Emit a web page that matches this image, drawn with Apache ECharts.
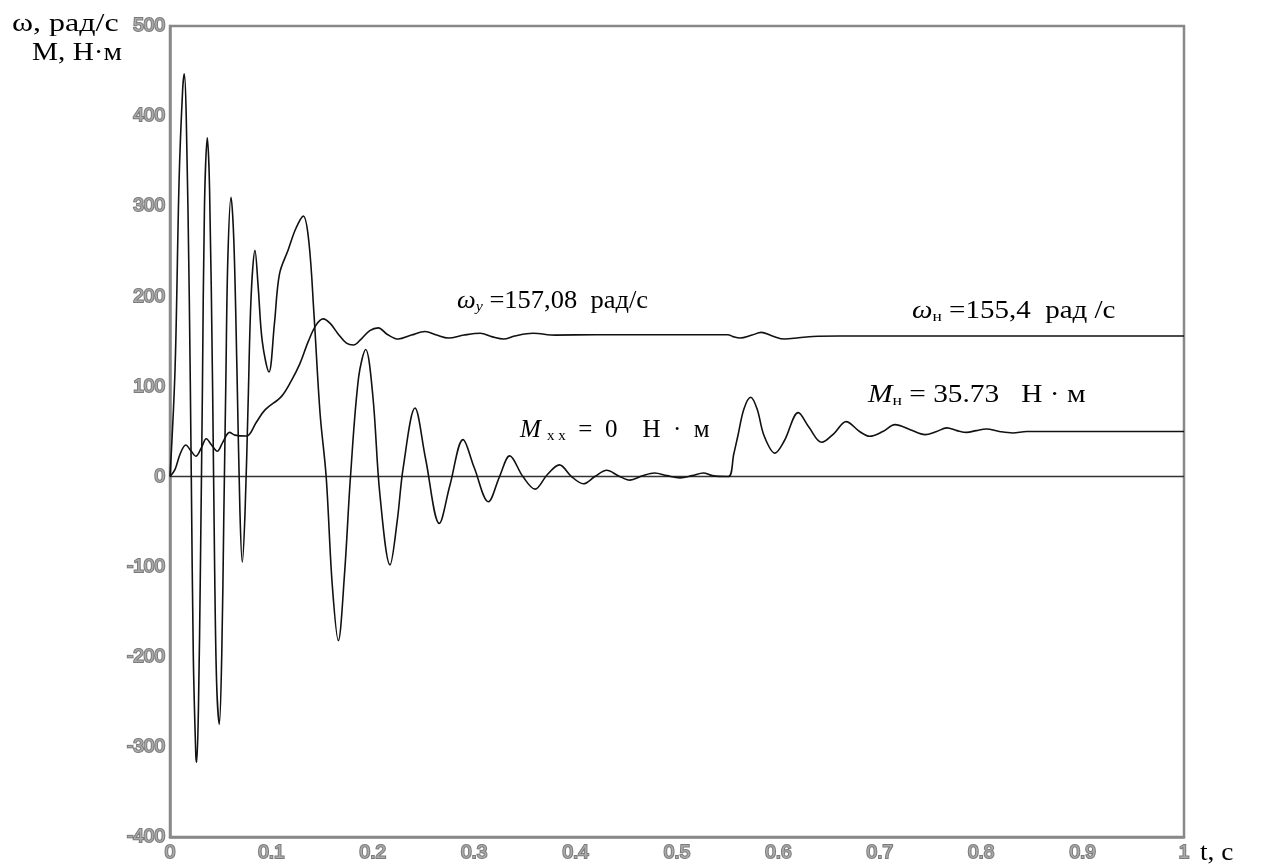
<!DOCTYPE html>
<html>
<head>
<meta charset="utf-8">
<script src="https://cdn.jsdelivr.net/npm/echarts@6/dist/echarts.min.js"></script>
<style>
html,body{margin:0;padding:0;background:#fff;}
#chart{width:1264px;height:865px;}
</style>
</head>
<body>
<div id="chart"></div>
<script>
// ---- data ----
const xTickLabels = ['0','0.1','0.2','0.3','0.4','0.5','0.6','0.7','0.8','0.9','1'];
const yTickLabels = ['-400','-300','-200','-100','0','100','200','300','400','500'];

// angular speed ω, rad/s
const tOmega = [0, 0.005, 0.010, 0.0155, 0.021, 0.0255, 0.031, 0.0358, 0.041, 0.0466, 0.052, 0.0588, 0.064, 0.0756,
  0.085, 0.0937, 0.110, 0.120, 0.128, 0.1364, 0.144, 0.151, 0.158, 0.166, 0.174, 0.181, 0.188, 0.197, 0.2055, 0.214,
  0.225, 0.238, 0.2515, 0.263, 0.2745, 0.290, 0.306, 0.318, 0.329, 0.340, 0.358, 0.38, 0.42, 0.55, 0.556, 0.562,
  0.574, 0.583, 0.594, 0.606, 0.62, 0.634, 0.66, 1.0];
const omega = [0, 8, 25, 35, 28, 22.5, 32, 42, 35, 28, 38, 49, 46, 45,
  60, 74, 89, 107, 125, 150, 168, 175, 170, 158, 148, 146, 152, 162, 165, 158,
  152.6, 157, 161, 157, 153.7, 157, 159, 155, 152.6, 156, 159, 157, 157.4, 157.4, 155, 153.7,
  157, 160, 156, 152.6, 154, 155.5, 156, 156];

// electromagnetic torque M, N·m
const tTorque = [0, 0.005, 0.009, 0.0125, 0.0141, 0.016, 0.019, 0.021, 0.023, 0.0255, 0.0263, 0.028, 0.030, 0.032,
  0.034, 0.0368, 0.039, 0.042, 0.044, 0.046, 0.0486, 0.051, 0.053, 0.055, 0.057, 0.0602, 0.063, 0.066, 0.069,
  0.0713, 0.074, 0.077, 0.080, 0.0838, 0.087, 0.091, 0.0976, 0.103, 0.108, 0.1167, 0.124, 0.1315, 0.137, 0.142,
  0.148, 0.154, 0.160, 0.166, 0.172, 0.178, 0.186, 0.193, 0.200, 0.207, 0.217, 0.224, 0.230, 0.2416, 0.252,
  0.2656, 0.276, 0.289, 0.300, 0.314, 0.325, 0.335, 0.348, 0.360, 0.372, 0.384, 0.396, 0.4076, 0.419, 0.4307,
  0.442, 0.4536, 0.466, 0.478, 0.490, 0.503, 0.515, 0.526, 0.535, 0.5506, 0.556, 0.560, 0.566, 0.5727, 0.579,
  0.586, 0.5966, 0.606, 0.6196, 0.630, 0.6427, 0.655, 0.6667, 0.680, 0.690, 0.703, 0.715, 0.730, 0.7446, 0.756,
  0.766, 0.776, 0.7857, 0.795, 0.805, 0.818, 0.831, 0.845, 1.0];
const torque = [0, 120, 330, 430, 447, 400, 200, 0, -200, -310, -317, -260, -100, 100,
  300, 376, 320, 100, -100, -230, -275, -200, -50, 100, 240, 310, 260, 120, -40,
  -95, -40, 80, 200, 251, 210, 150, 116, 170, 225, 252, 275, 289, 260, 180,
  70, 0, -120, -182, -110, 0, 110, 141, 90, -20, -98, -50, 10, 76, 20,
  -52, -10, 41, 10, -28, 0, 23, 0, -14, 2, 13, 0, -8, 0, 7,
  1, -4, 1, 4, 1, -1.5, 1, 4, 1, 0, 25, 45, 75, 88, 75,
  45, 26, 40, 71, 55, 38, 48, 61, 50, 44.7, 50, 57.6, 52, 46.5, 50,
  54, 51, 49, 51, 52.8, 50, 48.4, 50, 50];

const zeroLine = [[0, 0], [1, 0]];

const toPairs = (xs, ys) => xs.map((x, i) => [x, ys[i]]);

const chart = echarts.init(document.getElementById('chart'));
const serif = '"Liberation Serif", "DejaVu Serif", serif';
const tickLabelStyle = {
  color: '#ababab',
  textBorderColor: '#7a7a7a',
  textBorderWidth: 2,
  fontFamily: '"Liberation Sans", Arial, sans-serif',
  fontSize: 19
};

function richText(x, y, sx, text) {
  const rich = {
    i: { font: 'italic 25px ' + serif, fill: '#000' },
    s: { font: '15px ' + serif, fill: '#000', padding: [13, 0, 0, 0] },
    si: { font: 'italic 15px ' + serif, fill: '#000', padding: [13, 0, 0, 0] }
  };
  return {
    type: 'text', x: x, y: y, scaleX: sx,
    style: { text: text, font: '25px ' + serif, fill: '#000', verticalAlign: 'middle', rich: rich }
  };
}

chart.setOption({
  animation: false,
  backgroundColor: '#fff',
  grid: {
    left: 170, right: 80, top: 26, bottom: 28,
    show: true, borderColor: '#888', borderWidth: 2.5, backgroundColor: 'transparent'
  },
  xAxis: {
    type: 'value', min: 0, max: 1, interval: 0.1,
    axisLine: { onZero: false, lineStyle: { color: '#888', width: 2.5 } },
    axisTick: { show: false },
    splitLine: { show: false },
    axisLabel: Object.assign({}, tickLabelStyle, {
      margin: 6,
      formatter: v => xTickLabels[Math.round(v * 10)]
    })
  },
  yAxis: {
    type: 'value', min: -400, max: 500, interval: 100,
    axisLine: { show: true, lineStyle: { color: '#888', width: 2.5 } },
    axisTick: { show: false },
    splitLine: { show: false },
    axisLabel: Object.assign({}, tickLabelStyle, {
      margin: 5,
      formatter: v => yTickLabels[Math.round((v + 400) / 100)]
    })
  },
  series: [
    {
      name: 'zero', type: 'line', data: zeroLine, showSymbol: false, silent: true,
      lineStyle: { color: '#333', width: 1.5 }
    },
    {
      name: 'M', type: 'line', data: toPairs(tTorque, torque), showSymbol: false, smooth: 0.35,
      lineStyle: { color: '#111', width: 1.6 }
    },
    {
      name: 'ω', type: 'line', data: toPairs(tOmega, omega), showSymbol: false, smooth: 0.35,
      lineStyle: { color: '#111', width: 1.6 }
    }
  ],
  graphic: [
    { type: 'text', x: 12, y: 24, scaleX: 1.23, style: { text: 'ω, рад/с', font: '26px ' + serif, fill: '#000', align: 'left', verticalAlign: 'middle' } },
    { type: 'text', x: 32, y: 53, scaleX: 1.17, style: { text: 'М, Н·м', font: '25px ' + serif, fill: '#000', align: 'left', verticalAlign: 'middle' } },
    { type: 'text', x: 1200, y: 853, scaleX: 1.05, style: { text: 't, c', font: '26px ' + serif, fill: '#000', align: 'left', verticalAlign: 'middle' } },
    richText(457, 301, 1.06, '{i|ω}{si|у} =157,08  рад/с'),
    richText(520, 430, 1.0, '{i|M} {s|x x}  =  0    Н  ·  м'),
    richText(912, 311, 1.16, '{i|ω}{s|н} =155,4  рад /с'),
    richText(868, 395, 1.175, '{i|M}{s|н} = 35.73   Н · м')
  ]
});
</script>
</body>
</html>
